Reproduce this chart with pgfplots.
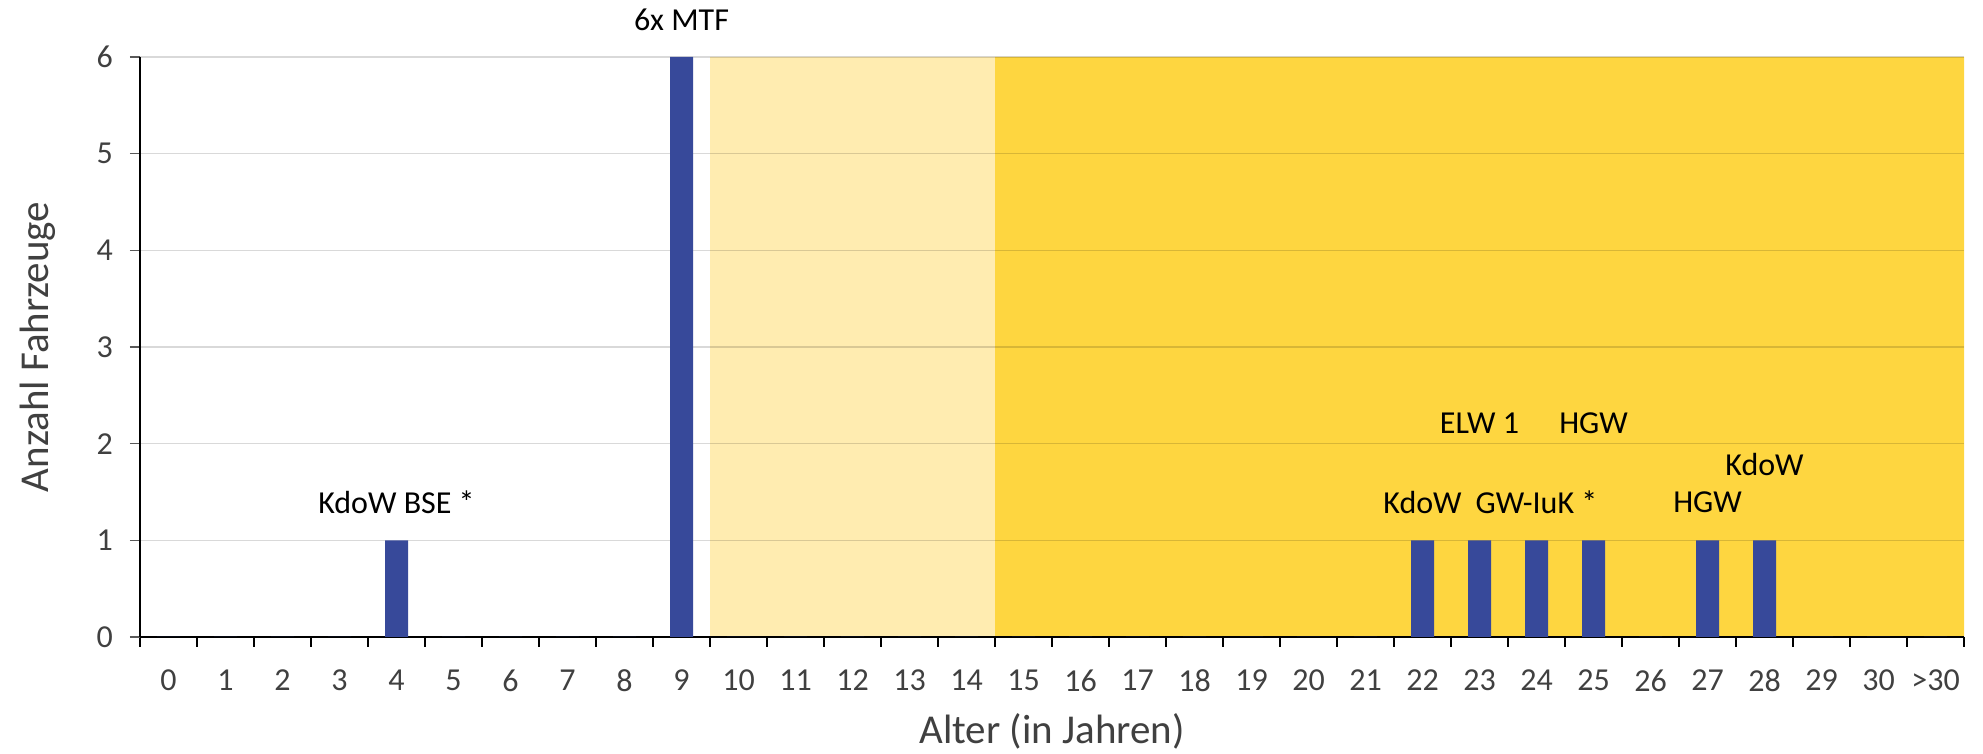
\documentclass[border=0pt]{standalone}
\usepackage{pgfplots}
\pgfplotsset{compat=1.18}
\usepackage{fontspec}
\setmainfont{Carlito}
\definecolor{barblue}{HTML}{37499A}
\definecolor{lightyel}{HTML}{FFECB0}
\definecolor{darkyel}{HTML}{FED640}
\definecolor{txtgray}{HTML}{404040}
\begin{document}
\begin{tikzpicture}
\begin{axis}[
  set layers,
  scale only axis,
  width=912pt, height=290pt,
  xmin=-0.5, xmax=31.5, ymin=0, ymax=6,
  clip=false,
  axis x line=bottom, axis y line=left,
  axis line style={-, black, line width=0.6pt},
  xtick={0,...,31},
  xticklabels={0,1,2,3,4,5,6,7,8,9,10,11,12,13,14,15,16,17,18,19,20,21,22,23,24,25,26,27,28,29,30,>30},
  minor xtick={-0.5,0.5,...,31.5},
  major x tick style={draw=none},
  minor x tick style={black, line width=0.6pt},
  minor tick length=5pt,
  ytick={0,...,6},
  y tick style={draw=black!65, line width=0.7pt},
  major tick length=5pt,
  tick align=outside,
  ymajorgrids,
  grid style={draw=black, opacity=0.15, line width=0.7pt},
  /pgf/number format/assume math mode=true,
  ticklabel style={font=\fontsize{16}{19}\selectfont, text=txtgray},
  xticklabel style={yshift=-8pt},
  yticklabel style={xshift=-5pt},
  xlabel={Alter (in Jahren)},
  ylabel={Anzahl Fahrzeuge},
  label style={font=\fontsize{20.5}{25}\selectfont, text=txtgray},
  xlabel style={at={(axis description cs:0.5,-0.162)}, anchor=center},
  ylabel style={at={(axis description cs:-0.0559,0.5)}, anchor=center},
]
\addplot[fill=lightyel, draw=none, on layer=axis background, forget plot]
  coordinates {(9.5,0) (9.5,6) (14.5,6) (14.5,0)} \closedcycle;
\addplot[fill=darkyel, draw=none, on layer=axis background, forget plot]
  coordinates {(14.5,0) (14.5,6) (31.5,6) (31.5,0)} \closedcycle;
\addplot[ybar, bar width=11.5pt, fill=barblue, draw=none] coordinates {
 (0,0) (1,0) (2,0) (3,0) (4,1) (5,0) (6,0) (7,0) (8,0) (9,6)
 (10,0) (11,0) (12,0) (13,0) (14,0) (15,0) (16,0) (17,0) (18,0) (19,0)
 (20,0) (21,0) (22,1) (23,1) (24,1) (25,1) (26,0) (27,1) (28,1) (29,0)
 (30,0) (31,0)};
\begin{scope}[every node/.style={font=\fontsize{16}{19}\selectfont, text=black, anchor=center, inner sep=0pt}]
\node at (axis cs:4,1.39) {KdoW BSE *};
\node at (axis cs:9,6.38) {6x MTF};
\node at (axis cs:22,1.39) {KdoW};
\node at (axis cs:23,2.21) {ELW 1};
\node at (axis cs:24,1.39) {GW-IuK *};
\node at (axis cs:25,2.21) {HGW};
\node at (axis cs:27,1.39) {HGW};
\node at (axis cs:28,1.78) {KdoW};
\end{scope}
\end{axis}
\pgfresetboundingbox
\path[use as bounding box] ([shift={(-70pt,-58.5pt)}]current axis.south west) rectangle ([shift={(9.5pt,28.5pt)}]current axis.north east);
\end{tikzpicture}
\end{document}
